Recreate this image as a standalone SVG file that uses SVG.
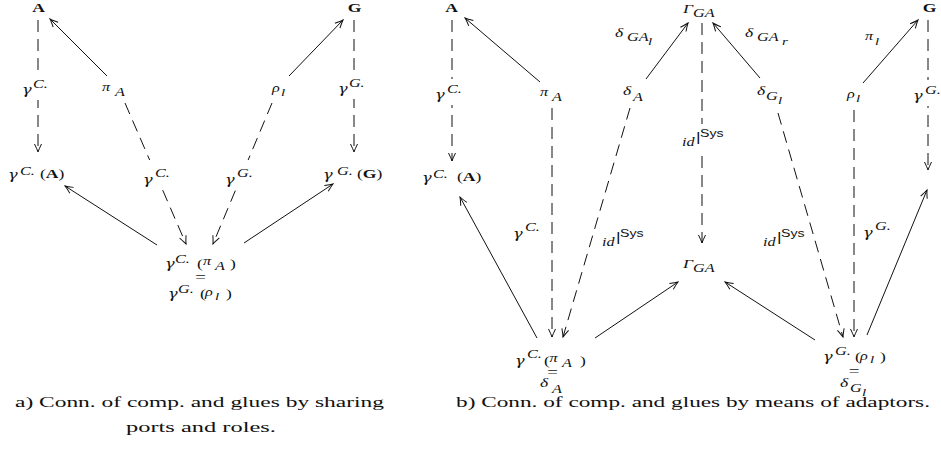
<svg xmlns="http://www.w3.org/2000/svg" width="941" height="466" viewBox="0 0 941 466">
<style>
text { font-family: "Liberation Serif", "DejaVu Serif", serif; fill: #111; }
.i { font-style: italic; }
.n { font-style: normal; }
.g { font-family: "DejaVu Serif", "Liberation Serif", serif; font-style: italic; font-size: 12px; }
.bf { font-weight: bold; font-style: normal; }
.sf { font-family: "Liberation Sans", "DejaVu Sans", sans-serif; font-style: normal; }
.s { fill: none; stroke: #111; stroke-width: 1; marker-end: url(#ah); }
.d { fill: none; stroke: #111; stroke-width: 1; stroke-dasharray: 12 7; marker-end: url(#ah); }
.bg { fill: #fff; }
.cap { font-size: 15px; }
</style>
<defs>
<marker id="ah" viewBox="-10 -5 11 10" refX="0" refY="0" markerWidth="11" markerHeight="10" markerUnits="userSpaceOnUse" orient="auto">
<path d="M-8,-3.5 Q-2.5,-0.8 0,0 Q-2.5,0.8 -8,3.5" fill="none" stroke="#111" stroke-width="1" stroke-dasharray="none"/>
</marker>
</defs>

<g id="connectors">
<path class="d" d="M38,20 V152"/>
<path class="s" d="M107,76 L50,19"/>
<path class="d" d="M125,103 L186,244"/>
<path class="d" d="M272,103 L213,244"/>
<path class="s" d="M289,76 L343,20"/>
<path class="d" d="M354,20 V152"/>
<path class="s" d="M157,245 L65,186"/>
<path class="s" d="M244,243 L333,184"/>

<path class="d" d="M452,20 V161"/>
<path class="s" d="M540,82 L465,18"/>
<path class="d" d="M552,108 V337"/>
<path class="s" d="M646,79 L688,23"/>
<path class="d" d="M630,108 L563,337"/>
<path class="d" d="M702,23 V243"/>
<path class="s" d="M760,78 L713,23"/>
<path class="d" d="M778,113 L843,337"/>
<path class="s" d="M863,83 L918,20"/>
<path class="d" d="M854,110 V337"/>
<path class="d" d="M928,20 V170"/>
<path class="s" d="M537,338 L460,197"/>
<path class="s" d="M595,338 L678,282"/>
<path class="s" d="M815,340 L725,282"/>
<path class="s" d="M867,335 L927,190"/>
</g>

<g id="edge-labels">
<rect class="bg" x="19" y="74" width="36" height="26"/>
<g transform="translate(22,0) scale(1.35,1)"><text class="i" font-size="14"><tspan class="g" x="0" y="94">γ</tspan><tspan x="8.1" y="88" font-size="12">C.</tspan></text></g>
<rect class="bg" x="335" y="73" width="36" height="26"/>
<g transform="translate(338,0) scale(1.35,1)"><text class="i" font-size="14"><tspan class="g" x="0" y="93">γ</tspan><tspan x="8.1" y="87" font-size="12">G.</tspan></text></g>
<rect class="bg" x="139" y="160" width="35" height="30"/>
<g transform="translate(143,0) scale(1.35,1)"><text class="i" font-size="14"><tspan class="g" x="0" y="184">γ</tspan><tspan x="8.9" y="177" font-size="12">C.</tspan></text></g>
<rect class="bg" x="222" y="160" width="35" height="30"/>
<g transform="translate(225,0) scale(1.35,1)"><text class="i" font-size="14"><tspan class="g" x="0" y="184">γ</tspan><tspan x="8.9" y="177" font-size="12">G.</tspan></text></g>

<rect class="bg" x="432" y="79" width="36" height="26"/>
<g transform="translate(435,0) scale(1.35,1)"><text class="i" font-size="14"><tspan class="g" x="0" y="99">γ</tspan><tspan x="8.9" y="93" font-size="12">C.</tspan></text></g>
<g transform="translate(513,0) scale(1.35,1)"><text class="i" font-size="14"><tspan class="g" x="0" y="238">γ</tspan><tspan x="8.9" y="231" font-size="12">C.</tspan></text></g>
<g transform="translate(863,0) scale(1.35,1)"><text class="i" font-size="14"><tspan class="g" x="0" y="237">γ</tspan><tspan x="8.9" y="230" font-size="12">G.</tspan></text></g>
<rect class="bg" x="910" y="80" width="31" height="26"/>
<g transform="translate(913,0) scale(1.35,1)"><text class="i" font-size="14"><tspan class="g" x="0" y="100">γ</tspan><tspan x="8.9" y="94" font-size="12">G.</tspan></text></g>

<g transform="translate(615,0) scale(1.35,1)"><text class="i" font-size="13"><tspan x="0" y="37">δ</tspan><tspan x="8.9" y="41" font-size="12">GA</tspan><tspan x="24.4" y="45" font-size="11">l</tspan></text></g>
<g transform="translate(745,0) scale(1.35,1)"><text class="i" font-size="13"><tspan x="0" y="37">δ</tspan><tspan x="8.9" y="41" font-size="12">GA</tspan><tspan x="27.4" y="45" font-size="11">r</tspan></text></g>
<g transform="translate(865,0) scale(1.35,1)"><text class="i" font-size="12"><tspan x="0" y="40">π</tspan><tspan x="7.4" y="45" font-size="11">l</tspan></text></g>

<rect class="bg" x="679" y="124" width="44" height="26"/>
<g transform="translate(682,0) scale(1.35,1)"><text class="i" font-size="12"><tspan x="0" y="146">id</tspan><tspan class="sf" x="10.4" y="141" font-size="13">|</tspan><tspan class="sf" x="13.3" y="137" font-size="10.5">Sys</tspan></text></g>
<g transform="translate(602,0) scale(1.35,1)"><text class="i" font-size="12"><tspan x="0" y="246">id</tspan><tspan class="sf" x="10.4" y="241" font-size="13">|</tspan><tspan class="sf" x="13.3" y="237" font-size="10.5">Sys</tspan></text></g>
<g transform="translate(763,0) scale(1.35,1)"><text class="i" font-size="12"><tspan x="0" y="246">id</tspan><tspan class="sf" x="10.4" y="241" font-size="13">|</tspan><tspan class="sf" x="13.3" y="237" font-size="10.5">Sys</tspan></text></g>
</g>

<g id="a-A" transform="translate(38.5,0) scale(1.35,1)"><text class="bf" x="0" y="12" font-size="13" text-anchor="middle">A</text></g>
<g id="a-G" transform="translate(354.5,0) scale(1.35,1)"><text class="bf" x="0" y="12" font-size="13" text-anchor="middle">G</text></g>
<g id="a-gCA" transform="translate(8,0) scale(1.35,1)"><text class="i" font-size="14"><tspan class="g" x="0" y="179">γ</tspan><tspan x="8.9" y="175" font-size="12">C.</tspan><tspan class="n" x="23.7" y="178" font-size="13">(</tspan><tspan class="bf" font-size="13">A</tspan><tspan class="n" font-size="13">)</tspan></text></g>
<g id="a-gGG" transform="translate(323,0) scale(1.35,1)"><text class="i" font-size="14"><tspan class="g" x="0" y="179">γ</tspan><tspan x="10.4" y="175" font-size="12">G.</tspan><tspan class="n" x="25.2" y="178" font-size="13">(</tspan><tspan class="bf" font-size="13">G</tspan><tspan class="n" font-size="13">)</tspan></text></g>
<g id="a-piA" transform="translate(102,0) scale(1.35,1)"><text class="i" font-size="12"><tspan x="0" y="91">π</tspan><tspan x="9.6" y="96">A</tspan></text></g>
<g id="a-rhol" transform="translate(272,0) scale(1.35,1)"><text class="i" font-size="12"><tspan x="0" y="92">ρ</tspan><tspan x="6.7" y="96" font-size="11">l</tspan></text></g>
<g id="a-center">
<g transform="translate(165,0) scale(1.35,1)"><text class="i" font-size="14"><tspan class="g" x="0" y="268">γ</tspan><tspan x="7.4" y="263" font-size="12">C.</tspan><tspan class="n" x="23.7" y="268" font-size="13">(</tspan><tspan x="28.1" y="265" font-size="12">π</tspan><tspan x="37" y="270" font-size="12">A</tspan><tspan class="n" x="48.1" y="268" font-size="13">)</tspan></text></g>
<g transform="translate(200.5,0) scale(1.35,1)"><text class="n" x="0" y="282" font-size="14" text-anchor="middle">=</text></g>
<g transform="translate(168,0) scale(1.35,1)"><text class="i" font-size="14"><tspan class="g" x="0" y="298">γ</tspan><tspan x="7.4" y="293" font-size="12">G.</tspan><tspan class="n" x="23.7" y="298" font-size="13">(</tspan><tspan x="27.4" y="296" font-size="12">ρ</tspan><tspan x="34.8" y="300" font-size="11">l</tspan><tspan class="n" x="43" y="298" font-size="13">)</tspan></text></g>
</g>

<g id="b-A" transform="translate(451.5,0) scale(1.35,1)"><text class="bf" x="0" y="12" font-size="13" text-anchor="middle">A</text></g>
<g id="b-gCA" transform="translate(422,0) scale(1.35,1)"><text class="i" font-size="14"><tspan class="g" x="0" y="182">γ</tspan><tspan x="8.1" y="178" font-size="12">C.</tspan><tspan class="n" x="25.9" y="181" font-size="13">(</tspan><tspan class="bf" font-size="13">A</tspan><tspan class="n" font-size="13">)</tspan></text></g>
<g id="b-piA" transform="translate(540,0) scale(1.35,1)"><text class="i" font-size="12"><tspan x="0" y="96">π</tspan><tspan x="8.9" y="101">A</tspan></text></g>
<g id="b-deltaA" transform="translate(623,0) scale(1.35,1)"><text class="i" font-size="13"><tspan x="0" y="95">δ</tspan><tspan x="7.4" y="101" font-size="12">A</tspan></text></g>
<g id="b-GammaTop" transform="translate(683,0) scale(1.35,1)"><text class="i" font-size="13"><tspan x="0" y="13">Γ</tspan><tspan x="7.4" y="17" font-size="12">GA</tspan></text></g>
<g id="b-deltaGl" transform="translate(757,0) scale(1.35,1)"><text class="i" font-size="13"><tspan x="0" y="95">δ</tspan><tspan x="6.7" y="100" font-size="12">G</tspan><tspan x="15.6" y="104" font-size="11">l</tspan></text></g>
<g id="b-rhol" transform="translate(847,0) scale(1.35,1)"><text class="i" font-size="12"><tspan x="0" y="98">ρ</tspan><tspan x="6.7" y="102" font-size="11">l</tspan></text></g>
<g id="b-G" transform="translate(929.5,0) scale(1.35,1)"><text class="bf" x="0" y="12" font-size="13" text-anchor="middle">G</text></g>
<g id="b-GammaBot" transform="translate(683,0) scale(1.35,1)"><text class="i" font-size="13"><tspan x="0" y="268">Γ</tspan><tspan x="7.4" y="272" font-size="12">GA</tspan></text></g>
<g id="b-left">
<g transform="translate(515,0) scale(1.35,1)"><text class="i" font-size="14"><tspan class="g" x="0" y="365">γ</tspan><tspan x="8.9" y="358" font-size="12">C.</tspan><tspan class="n" x="21.5" y="365" font-size="13">(</tspan><tspan x="25.6" y="362" font-size="12">π</tspan><tspan x="34.8" y="367" font-size="12">A</tspan><tspan class="n" x="48.1" y="365" font-size="13">)</tspan></text></g>
<g transform="translate(552.5,0) scale(1.35,1)"><text class="n" x="0" y="377" font-size="14" text-anchor="middle">=</text></g>
<g transform="translate(540,0) scale(1.35,1)"><text class="i" font-size="13"><tspan x="0" y="387">δ</tspan><tspan x="8.9" y="393" font-size="12">A</tspan></text></g>
</g>
<g id="b-right">
<g transform="translate(823,0) scale(1.35,1)"><text class="i" font-size="14"><tspan class="g" x="0" y="361">γ</tspan><tspan x="8.9" y="355" font-size="12">G.</tspan><tspan class="n" x="23.7" y="361" font-size="13">(</tspan><tspan x="27.4" y="360" font-size="12">ρ</tspan><tspan x="34.8" y="363" font-size="11">l</tspan><tspan class="n" x="42.2" y="361" font-size="13">)</tspan></text></g>
<g transform="translate(854,0) scale(1.35,1)"><text class="n" x="0" y="376" font-size="14" text-anchor="middle">=</text></g>
<g transform="translate(840,0) scale(1.35,1)"><text class="i" font-size="13"><tspan x="0" y="387">δ</tspan><tspan x="7.4" y="392" font-size="12">G</tspan><tspan x="16.3" y="396" font-size="11">l</tspan></text></g>
</g>

<g id="captions">
<text class="cap" x="15" y="407" textLength="369" lengthAdjust="spacingAndGlyphs">a) Conn. of comp. and glues by sharing</text>
<text class="cap" x="126" y="432" textLength="150" lengthAdjust="spacingAndGlyphs">ports and roles.</text>
<text class="cap" x="456" y="407" textLength="474" lengthAdjust="spacingAndGlyphs">b) Conn. of comp. and glues by means of adaptors.</text>
</g>
</svg>
